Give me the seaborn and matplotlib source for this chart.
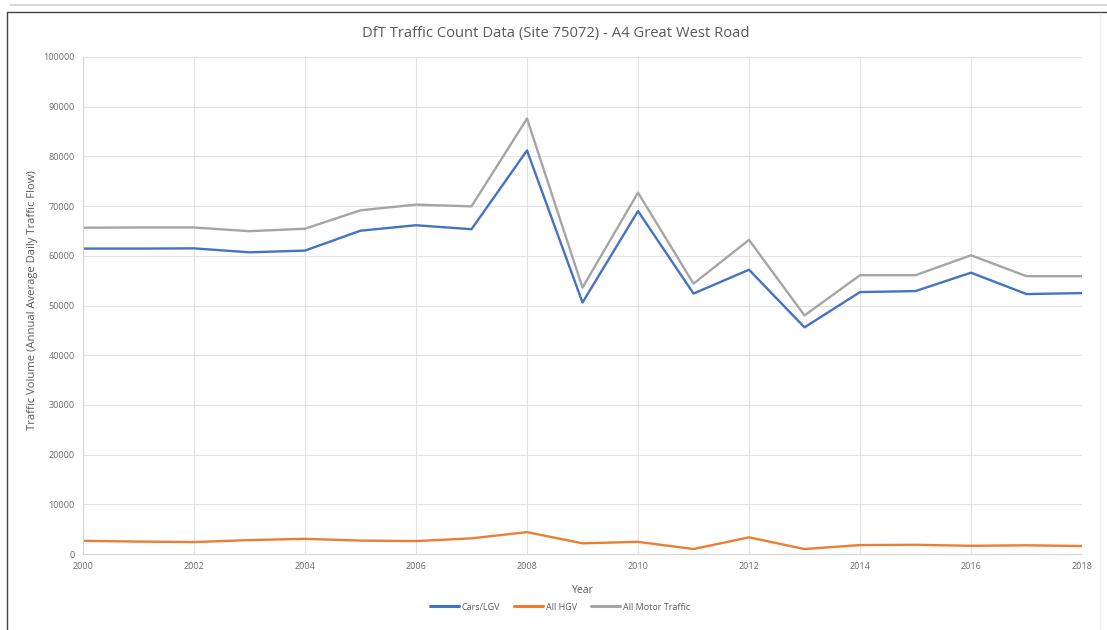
import matplotlib
matplotlib.use("Agg")
import matplotlib.pyplot as plt
from matplotlib.lines import Line2D
import numpy as np
import pandas as pd
import seaborn as sns

years = list(range(2000, 2019))
cars_lgv = [61450, 61450, 61500, 60700, 61050, 65050, 66150, 65350, 81200,
            50600, 69000, 52400, 57200, 45600, 52700, 52900, 56600, 52300, 52500]
all_hgv = [2650, 2500, 2400, 2800, 3050, 2700, 2600, 3150, 4400,
           2150, 2450, 1000, 3350, 1000, 1800, 1850, 1650, 1750, 1600]
all_motor = [65650, 65700, 65700, 64950, 65450, 69150, 70300, 69950, 87600,
             53600, 72700, 54400, 63200, 48000, 56100, 56100, 60100, 55900, 55900]

series_names = ["Cars/LGV", "All HGV", "All Motor Traffic"]
series_colors = ["#4472C4", "#ED7D31", "#A5A5A5"]
y_ticks = list(range(0, 100001, 10000))
x_ticks = list(range(2000, 2019, 2))

title_text = "DfT Traffic Count Data (Site 75072) - A4 Great West Road"
x_title = "Year"
y_title = "Traffic Volume (Annual Average Daily Traffic Flow)"

df = pd.DataFrame({
    "Year": years * 3,
    "Volume": cars_lgv + all_hgv + all_motor,
    "Series": [series_names[0]] * len(years)
    + [series_names[1]] * len(years)
    + [series_names[2]] * len(years),
})

sns.set_theme(style="white")
plt.rcParams["font.family"] = ["Open Sans", "DejaVu Sans"]

fig = plt.figure(figsize=(11.07, 6.3), dpi=100)
fig.patch.set_facecolor("white")

# outer frame of the chart object
fig.add_artist(Line2D([0.009, 1.0], [1 - 4.5 / 630, 1 - 4.5 / 630],
                      transform=fig.transFigure, color="#d0d0d0", lw=1.2))
fig.add_artist(Line2D([6.5 / 1107, 6.5 / 1107, 1.0], [0.0, 1 - 12.3 / 630, 1 - 12.3 / 630],
                      transform=fig.transFigure, color="#444444", lw=1.0))
fig.add_artist(Line2D([1100 / 1107, 1100 / 1107], [0.0, 1 - 13 / 630],
                      transform=fig.transFigure, color="#f0f0f0", lw=1.0))

ax = fig.add_axes([83 / 1107, 1 - 554 / 630, (1082 - 83) / 1107, (554 - 57) / 630])

sns.lineplot(data=df, x="Year", y="Volume", hue="Series", hue_order=series_names,
             palette=series_colors, linewidth=1.7, ax=ax, legend=False)

ax.set_xlim(2000, 2018)
ax.set_ylim(0, 100000)
ax.set_xticks(x_ticks)
ax.set_yticks(y_ticks)
ax.set_xticklabels([str(v) for v in x_ticks])
ax.set_yticklabels([str(v) for v in y_ticks])
ax.tick_params(axis="both", length=0, labelsize=6.5, colors="#6b6b6b", pad=6)
ax.grid(True, color="#e2e2e2", linewidth=0.8)
ax.set_axisbelow(True)
for side in ["top", "right"]:
    ax.spines[side].set_visible(False)
ax.spines["left"].set_color("#d6d6d6")
ax.spines["bottom"].set_color("#d6d6d6")
ax.spines["left"].set_linewidth(0.8)
ax.spines["bottom"].set_linewidth(0.8)

ax.set_xlabel(x_title, fontsize=7.5, color="#595959", labelpad=10)
ax.set_ylabel(y_title, fontsize=8.1, color="#595959")
ax.yaxis.set_label_coords((38 - 83) / 999, 0.51)

fig.text(556 / 1107, 1 - 33 / 630, title_text, ha="center", va="center",
         fontsize=10.6, color="#595959")

handles = [Line2D([0], [0], color=c, lw=2.2) for c in series_colors]
fig.legend(handles, series_names, loc="center", bbox_to_anchor=(560 / 1107, 1 - 607 / 630),
           ncol=3, frameon=False, fontsize=6.5, labelcolor="#595959",
           handlelength=3.2, handletextpad=0.3, columnspacing=1.6)

fig.savefig("out.png", dpi=100, facecolor="white")
